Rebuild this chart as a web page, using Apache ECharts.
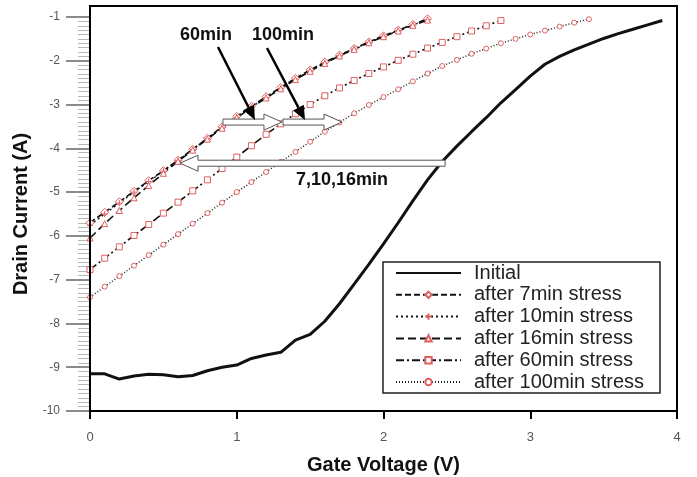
<!DOCTYPE html>
<html>
<head>
<meta charset="utf-8">
<script src="https://cdn.jsdelivr.net/npm/echarts@6/dist/echarts.min.js"></script>
<style>
  html, body { margin: 0; padding: 0; background: #fff; }
  #chart { width: 697px; height: 477px; }
</style>
</head>
<body>
<div id="chart"></div>
<script>
// Gate voltage sweep (V), shared by all curves
const gateVoltage = [0.0, 0.1, 0.2, 0.3, 0.4, 0.5, 0.6, 0.7, 0.8, 0.9,
  1.0, 1.1, 1.2, 1.3, 1.4, 1.5, 1.6, 1.7, 1.8, 1.9,
  2.0, 2.1, 2.2, 2.3, 2.4, 2.5, 2.6, 2.7, 2.8, 2.9,
  3.0, 3.1, 3.2, 3.3, 3.4, 3.5, 3.6, 3.7, 3.8, 3.9];

// log10 drain current (A) per stress condition
const initialCurrent = [-9.15, -9.15, -9.27, -9.20, -9.16, -9.17, -9.22, -9.19, -9.08, -9.00,
  -8.95, -8.80, -8.72, -8.66, -8.38, -8.25, -7.95, -7.55, -7.10, -6.65,
  -6.18, -5.70, -5.20, -4.72, -4.30, -3.95, -3.62, -3.30, -2.96, -2.66,
  -2.35, -2.08, -1.90, -1.75, -1.62, -1.49, -1.38, -1.28, -1.18, -1.08];
const stress7Current = [-5.70, -5.46, -5.22, -4.98, -4.74, -4.51, -4.27, -4.02, -3.77, -3.51,
  -3.27, -3.04, -2.82, -2.61, -2.40, -2.21, -2.03, -1.87, -1.72, -1.57,
  -1.43, -1.30, -1.17, -1.04];
const stress10Current = [-5.76, -5.50, -5.25, -5.00, -4.76, -4.52, -4.28, -4.03, -3.78, -3.53,
  -3.29, -3.06, -2.84, -2.63, -2.42, -2.23, -2.05, -1.88, -1.73, -1.58,
  -1.44, -1.31, -1.18, -1.06];
const stress16Current = [-6.05, -5.72, -5.42, -5.13, -4.85, -4.57, -4.30, -4.04, -3.79, -3.54,
  -3.30, -3.07, -2.85, -2.64, -2.43, -2.24, -2.06, -1.89, -1.74, -1.59,
  -1.45, -1.32, -1.19, -1.07];
const stress60Current = [-6.77, -6.51, -6.25, -5.99, -5.74, -5.48, -5.23, -4.97, -4.72, -4.46,
  -4.20, -3.94, -3.68, -3.44, -3.21, -3.00, -2.80, -2.62, -2.45, -2.29,
  -2.14, -1.99, -1.85, -1.71, -1.58, -1.45, -1.32, -1.20, -1.08];
const stress100Current = [-7.40, -7.16, -6.92, -6.68, -6.44, -6.20, -5.96, -5.72, -5.48, -5.24,
  -5.00, -4.77, -4.54, -4.31, -4.08, -3.85, -3.62, -3.41, -3.20, -3.01,
  -2.83, -2.65, -2.47, -2.29, -2.12, -1.98, -1.84, -1.72, -1.60, -1.50,
  -1.40, -1.31, -1.22, -1.13, -1.05];

const seriesNames = ['Initial', 'after 7min stress', 'after 10min stress',
  'after 16min stress', 'after 60min stress', 'after 100min stress'];
const xTicks = [0, 1, 2, 3, 4];
const yTicks = [-10, -9, -8, -7, -6, -5, -4, -3, -2, -1];

// plot frame geometry
const G = { left: 90, right: 20, top: 17, bottom: 66, frameTop: 6 };
const W = 697, H = 477;

function pairs(values) {
  return values.map((v, i) => [gateVoltage[i], v]);
}

const markRed = '#e06060';
const crossPath = 'path://M0,0L10,10M10,0L0,10';
const plusPath = 'path://M5,0L5,10M0,5L10,5';

const chart = echarts.init(document.getElementById('chart'), null, { renderer: 'canvas' });

const option = {
  backgroundColor: '#ffffff',
  animation: false,
  grid: { left: G.left, right: G.right, top: G.top, bottom: G.bottom, outerBoundsMode: 'none', show: false },
  xAxis: {
    type: 'value', min: 0, max: 4, interval: 1,
    name: 'Gate Voltage (V)', nameLocation: 'middle', nameGap: 44,
    nameTextStyle: { fontFamily: 'Liberation Sans', fontWeight: 'bold', fontSize: 20, color: '#111' },
    axisLine: { show: true, lineStyle: { color: '#000', width: 2 } },
    axisTick: { show: true, inside: false, length: 8, lineStyle: { color: '#000', width: 2 } },
    axisLabel: { margin: 20, fontFamily: 'Liberation Sans', fontSize: 13, color: '#555',
      customValues: xTicks },
    splitLine: { show: false }
  },
  yAxis: {
    type: 'value', min: -10, max: -1, interval: 1,
    name: 'Drain Current (A)', nameLocation: 'middle', nameGap: 56, nameRotate: 90,
    nameTextStyle: { fontFamily: 'Liberation Sans', fontWeight: 'bold', fontSize: 20, color: '#111' },
    axisLine: { show: true, lineStyle: { color: '#000', width: 2 } },
    axisTick: { show: true, inside: false, length: 24, lineStyle: { color: '#666', width: 1.5 } },
    minorTick: { show: true, splitNumber: 10, length: 12, lineStyle: { color: '#b8b8b8', width: 1 } },
    axisLabel: { margin: 30, fontFamily: 'Liberation Sans', fontSize: 12, color: '#555',
      customValues: yTicks },
    splitLine: { show: false },
    minorSplitLine: { show: false }
  },
  legend: {
    orient: 'vertical', left: 395, top: 263, padding: 0,
    itemWidth: 65, itemHeight: 8, itemGap: 1.8,
    data: seriesNames,
    textStyle: { fontFamily: 'Liberation Sans', fontSize: 20, color: '#222', padding: [0, 0, 0, 8] },
    selectedMode: false, z: 6
  },
  series: [
    {
      name: seriesNames[0], type: 'line', data: pairs(initialCurrent),
      symbol: crossPath, symbolSize: 7, showSymbol: false,
      lineStyle: { color: '#111', width: 3 },
      itemStyle: { color: '#111', borderColor: '#d22' }, z: 3
    },
    {
      name: seriesNames[1], type: 'line', data: pairs(stress7Current),
      symbol: 'diamond', symbolSize: 8,
      lineStyle: { color: '#111', width: 1.6, type: [6, 3] },
      itemStyle: { color: '#fff', borderColor: markRed, borderWidth: 1 }
    },
    {
      name: seriesNames[2], type: 'line', data: pairs(stress10Current),
      symbol: plusPath, symbolSize: 6,
      lineStyle: { color: '#111', width: 1.3, type: [2, 3] },
      itemStyle: { color: markRed, borderColor: markRed, borderWidth: 1 }
    },
    {
      name: seriesNames[3], type: 'line', data: pairs(stress16Current),
      symbol: 'triangle', symbolSize: 6,
      lineStyle: { color: '#111', width: 1.6, type: [8, 4] },
      itemStyle: { color: '#fff', borderColor: markRed, borderWidth: 1 }
    },
    {
      name: seriesNames[4], type: 'line', data: pairs(stress60Current),
      symbol: 'rect', symbolSize: 6,
      lineStyle: { color: '#111', width: 1.6, type: [8, 3, 2, 3] },
      itemStyle: { color: '#fff', borderColor: markRed, borderWidth: 1 }
    },
    {
      name: seriesNames[5], type: 'line', data: pairs(stress100Current),
      symbol: 'circle', symbolSize: 5,
      lineStyle: { color: '#222', width: 1.5, type: [1, 2] },
      itemStyle: { color: '#fff', borderColor: markRed, borderWidth: 1 }
    }
  ]
};

chart.setOption(option);

// annotation arrows, positioned in data coordinates
function px(x, y) { return chart.convertToPixel({ gridIndex: 0 }, [x, y]); }

function solidArrow(tail, tip) {
  const a = px(tail[0], tail[1]), b = px(tip[0], tip[1]);
  const dx = b[0] - a[0], dy = b[1] - a[1];
  const len = Math.hypot(dx, dy), ux = dx / len, uy = dy / len;
  const hl = 14, hw = 6;
  const bx = b[0] - ux * hl, by = b[1] - uy * hl;
  return [
    { type: 'line', z: 7, shape: { x1: a[0], y1: a[1], x2: bx, y2: by },
      style: { stroke: '#000', lineWidth: 2.5 } },
    { type: 'polygon', z: 7, shape: { points: [[b[0], b[1]],
        [bx - uy * hw, by + ux * hw], [bx + uy * hw, by - ux * hw]] },
      style: { fill: '#000' } }
  ];
}

function hollowArrow(fromX, toX, y) {
  const a = px(fromX, y), b = px(toX, y);
  const d = b[0] > a[0] ? 1 : -1;
  const hl = 18, hw = 8, sw = 3;
  const cy = a[1], hx = b[0] - d * hl;
  return {
    type: 'polygon', z: 7,
    shape: { points: [[a[0], cy - sw], [hx, cy - sw], [hx, cy - hw], [b[0], cy],
      [hx, cy + hw], [hx, cy + sw], [a[0], cy + sw]] },
    style: { fill: '#fff', stroke: '#555', lineWidth: 1 }
  };
}

function label(text, x, y) {
  const p = px(x, y);
  return { type: 'text', z: 8, x: p[0], y: p[1],
    style: { text: text, fill: '#111', font: 'bold 18px "Liberation Sans"', align: 'center', verticalAlign: 'middle' } };
}

const frameL = G.left, frameR = W - G.right, frameB = H - G.bottom;
const graphics = [
  // plot frame
  { type: 'rect', z: 5, shape: { x: frameL, y: G.frameTop, width: frameR - frameL, height: frameB - G.frameTop },
    style: { fill: 'none', stroke: '#000', lineWidth: 2 } },
  // legend box
  { type: 'rect', z: 4, shape: { x: 383, y: 262, width: 277, height: 131 },
    style: { fill: '#fff', stroke: '#222', lineWidth: 1.5 } },
  hollowArrow(2.42, 0.613, -4.34),
  hollowArrow(0.906, 1.308, -3.40),
  hollowArrow(1.315, 1.717, -3.40),
  ...solidArrow([0.872, -1.685], [1.124, -3.353]),
  ...solidArrow([1.206, -1.708], [1.465, -3.353]),
  label('60min', 0.79, -1.41),
  label('100min', 1.315, -1.41),
  label('7,10,16min', 1.717, -4.72)
];

chart.setOption({ graphic: graphics });
</script>
</body>
</html>
